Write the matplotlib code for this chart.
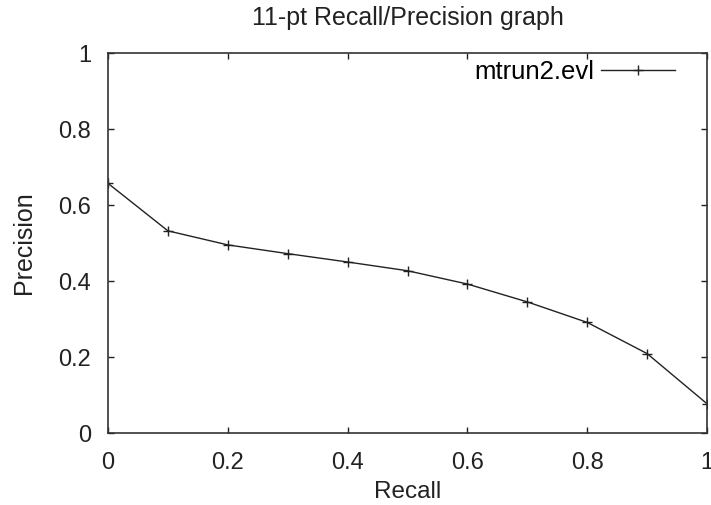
import matplotlib
matplotlib.use("Agg")
import matplotlib.pyplot as plt

# 11-pt recall/precision values
recall = [0.0, 0.1, 0.2, 0.3, 0.4, 0.5, 0.6, 0.7, 0.8, 0.9, 1.0]
precision = [0.657, 0.532, 0.495, 0.472, 0.450, 0.427, 0.392, 0.345, 0.291, 0.209, 0.077]
ticks = [0, 0.2, 0.4, 0.6, 0.8, 1]
tick_labels = ["0", "0.2", "0.4", "0.6", "0.8", "1"]

plt.rcParams["font.family"] = ["Liberation Sans", "DejaVu Sans"]

fig = plt.figure(figsize=(7.11, 5.05), dpi=100)
ax = fig.add_axes([108 / 711, 72 / 505, 599 / 711, 380 / 505])

ax.plot(recall, precision, color="#222222", linewidth=1.0, marker="+",
        markersize=7, markeredgewidth=1.0, label="mtrun2.evl")

ax.set_xlim(0, 1)
ax.set_ylim(0, 1)
ax.set_xticks(ticks)
ax.set_xticklabels(tick_labels)
ax.set_yticks(ticks)
ax.set_yticklabels(tick_labels)
ax.tick_params(direction="in", length=4, width=1, top=True, right=True,
               labelsize=17, colors="#222222", pad=12)
ax.tick_params(axis="x", pad=14)

for s in ax.spines.values():
    s.set_linewidth(1.2)
    s.set_color("#333333")

ax.set_title("11-pt Recall/Precision graph", fontsize=18, pad=20, color="#222222")
ax.set_xlabel("Recall", fontsize=17.5, color="#222222", labelpad=5)
ax.set_ylabel("Precision", fontsize=18, color="#222222", labelpad=16)

ax.legend(loc="center right", bbox_to_anchor=(0.947, 0.95), frameon=False,
          markerfirst=False, fontsize=18.5, handlelength=2.9, handletextpad=0.25,
          borderpad=0, borderaxespad=0)

fig.savefig("out.png", dpi=100)
